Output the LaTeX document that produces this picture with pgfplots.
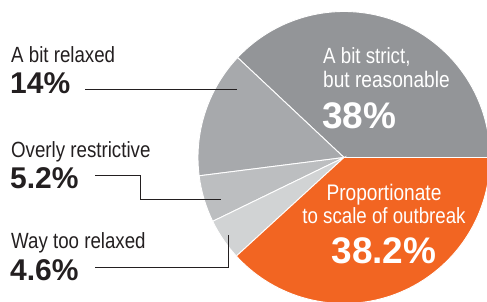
\documentclass[border=0pt]{standalone}
\usepackage{pgfplots}
\pgfplotsset{compat=1.18}
\usepackage{fontspec}
\setmainfont{Liberation Sans}
\newfontfamily\cond{Liberation Sans}[FakeStretch=0.85]
\definecolor{cStrict}{HTML}{939598}
\definecolor{cBit}{HTML}{A7A9AC}
\definecolor{cOver}{HTML}{BCBEC0}
\definecolor{cWay}{HTML}{D1D3D4}
\definecolor{cProp}{HTML}{F26522}
\definecolor{ink}{HTML}{231F20}
% slice values (percent)
\def\vStrict{38}
\def\vBit{14}
\def\vOver{5.2}
\def\vWay{4.6}
\def\vProp{38.2}
\pgfmathsetmacro\aA{0}
\pgfmathsetmacro\aB{\aA+\vStrict*3.6}
\pgfmathsetmacro\aC{\aB+\vBit*3.6}
\pgfmathsetmacro\aD{\aC+\vOver*3.6}
\pgfmathsetmacro\aE{\aD+\vWay*3.6}
\pgfmathsetmacro\aF{\aE+\vProp*3.6}
\def\R{146}
\newcommand{\pieslice}[3]{%
  \fill[#3,draw=white,line width=0.9pt] (axis cs:344,143.5) -- ++(#1:\R pt)
     arc[start angle=#1,end angle=#2,radius=\R pt] -- cycle;}
\begin{document}
\begin{tikzpicture}
\begin{axis}[x=1pt,y=1pt,xmin=0,xmax=487,ymin=0,ymax=301,
  hide axis, scale only axis, clip=true, name=ax]
\pieslice{\aA}{\aB}{cStrict}
\pieslice{\aB}{\aC}{cBit}
\pieslice{\aC}{\aD}{cOver}
\pieslice{\aD}{\aE}{cWay}
\pieslice{\aE}{\aF}{cProp}
% leader lines
\addplot[ink,line width=0.9pt] coordinates {(85,212) (237,212)};
\addplot[ink,line width=0.9pt] coordinates {(95,126) (140,126) (140,102) (221,102)};
\addplot[ink,line width=0.9pt] coordinates {(95,34) (228,34) (228,66)};
% left labels
\node[anchor=base west,inner sep=0,text=ink] at (axis cs:11,239) {\cond\fontsize{22}{24}\selectfont A bit relaxed};
\node[anchor=base west,inner sep=0,text=ink] at (axis cs:10,208) {\bfseries\fontsize{30}{32}\selectfont 14\%};
\node[anchor=base west,inner sep=0,text=ink] at (axis cs:11,144) {\cond\fontsize{22}{24}\selectfont Overly restrictive};
\node[anchor=base west,inner sep=0,text=ink] at (axis cs:10,113) {\bfseries\fontsize{30}{33}\selectfont 5.2\%};
\node[anchor=base west,inner sep=0,text=ink] at (axis cs:11,53) {\cond\fontsize{22}{24}\selectfont Way too relaxed};
\node[anchor=base west,inner sep=0,text=ink] at (axis cs:10,21) {\bfseries\fontsize{30}{33}\selectfont 4.6\%};
% pie labels
\node[anchor=base west,inner sep=0,text=white] at (axis cs:323,238) {\cond\fontsize{22}{24}\selectfont A bit strict,};
\node[anchor=base west,inner sep=0,text=white] at (axis cs:323,214) {\cond\fontsize{22.5}{24}\selectfont but reasonable};
\node[anchor=base west,inner sep=0,text=white] at (axis cs:322,173) {\bfseries\fontsize{37}{40}\selectfont 38\%};
\node[anchor=base,inner sep=0,text=white] at (axis cs:384,101) {\cond\fontsize{22.5}{24}\selectfont Proportionate};
\node[anchor=base,inner sep=0,text=white] at (axis cs:384,78) {\cond\fontsize{22}{24}\selectfont to scale of outbreak};
\node[anchor=base,inner sep=0,text=white] at (axis cs:384,38) {\bfseries\fontsize{37}{40}\selectfont 38.2\%};
\end{axis}
\pgfresetboundingbox
\path[use as bounding box] (ax.south west) rectangle (ax.north east);
\end{tikzpicture}
\end{document}
